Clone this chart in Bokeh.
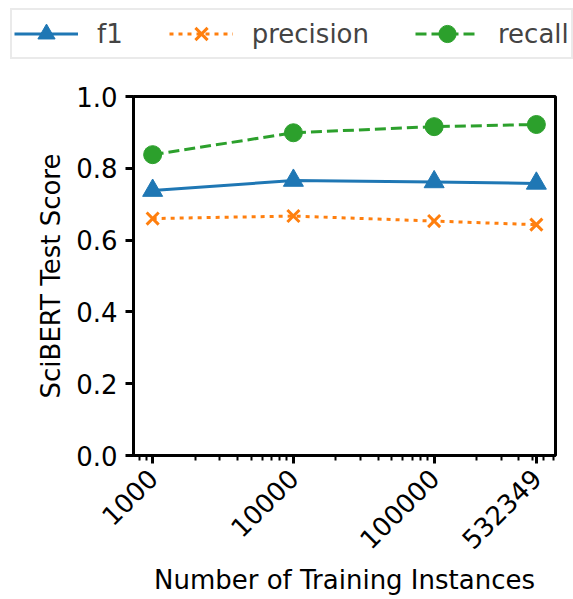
from bokeh.plotting import figure
from bokeh.layouts import column
from bokeh.models import (Range1d, FixedTicker, PrintfTickFormatter, Legend, LegendItem)
from bokeh.embed import file_html
from bokeh.resources import INLINE
import math

# Data
train_sizes = [1000, 10000, 100000, 532349]
tick_labels = ["1000", "10000", "100000", "532349"]
series_names = ["f1", "precision", "recall"]
f1 = [0.738, 0.766, 0.762, 0.758]
precision = [0.660, 0.667, 0.653, 0.643]
recall = [0.838, 0.899, 0.916, 0.922]
y_ticks = [0.0, 0.2, 0.4, 0.6, 0.8, 1.0]
minor = [800, 900] + [k * 1000 for k in range(2, 10)] + [k * 10000 for k in range(2, 10)] + [k * 100000 for k in range(2, 8)]

FONT = "DejaVu Sans"
FS = "26px"
blue, orange, green = "#1f77b4", "#ff7f0e", "#2ca02c"
styles = [
    dict(color=blue, dash="solid", marker="triangle", size=20),
    dict(color=orange, dash="4 5", marker="x", size=17),
    dict(color=green, dash="11 5", marker="circle", size=18),
]


def draw(fig, xs, ys, st):
    ln = fig.line(xs, ys, line_color=st["color"], line_width=3, line_dash=st["dash"])
    if st["marker"] == "x":
        sc = fig.scatter(xs, ys, marker="x", size=st["size"], line_color=st["color"], line_width=3)
    else:
        sc = fig.scatter(xs, ys, marker=st["marker"], size=st["size"],
                         fill_color=st["color"], line_color=st["color"])
    return ln, sc


# ---- main plot ----
p = figure(width=573, height=537, x_axis_type="log",
           x_range=Range1d(731, 728000), y_range=Range1d(0, 1.0),
           output_backend="svg", toolbar_location=None,
           min_border_left=133, min_border_right=18, min_border_top=34, min_border_bottom=144)
p.grid.visible = False
p.outline_line_color = "black"
p.outline_line_width = 3
p.background_fill_color = "white"
p.border_fill_color = "white"

for ys, st in zip([f1, precision, recall], styles):
    draw(p, train_sizes, ys, st)

for ax in (p.xaxis[0], p.yaxis[0]):
    ax.axis_line_width = 3
    ax.major_tick_line_width = 3
    ax.minor_tick_line_width = 2
    ax.major_tick_in = 0
    ax.major_tick_out = 8
    ax.minor_tick_in = 0
    ax.minor_tick_out = 5
    ax.major_label_text_font = FONT
    ax.major_label_text_font_size = FS
    ax.major_label_text_color = "black"
    ax.axis_label_text_font = FONT
    ax.axis_label_text_font_size = FS
    ax.axis_label_text_font_style = "normal"
    ax.axis_label_text_color = "black"

p.xaxis.ticker = FixedTicker(ticks=train_sizes, minor_ticks=minor)
p.xaxis.major_label_overrides = {t: lab for t, lab in zip(train_sizes, tick_labels)}
p.xaxis.major_label_orientation = math.pi / 4
p.xaxis.axis_label = "Number of Training Instances"
p.xaxis.axis_label_standoff = 4
p.xaxis.major_label_standoff = 10

p.yaxis.ticker = FixedTicker(ticks=y_ticks, minor_ticks=[])
p.yaxis.formatter = PrintfTickFormatter(format="%.1f")
p.yaxis.axis_label = "SciBERT Test Score"
p.yaxis.axis_label_standoff = 7
p.yaxis.major_label_standoff = 8

# ---- legend strip ----
lg = figure(width=573, height=62, x_range=Range1d(0, 1), y_range=Range1d(5, 6),
            output_backend="svg", toolbar_location=None,
            min_border=0, x_axis_location=None, y_axis_location=None)
lg.frame_align = False
lg.grid.visible = False
lg.outline_line_color = None
lg.border_fill_color = "white"
lg.background_fill_color = "white"

items = []
for name, ys, st in zip(series_names, [f1, precision, recall], styles):
    ln, sc = draw(lg, [0.5] * len(ys), ys, st)
    items.append(LegendItem(label=name, renderers=[ln, sc]))

legend = Legend(items=items, location=(10, 3), orientation="horizontal")
legend.label_text_font = FONT
legend.label_text_font_size = FS
legend.glyph_width = 64
legend.glyph_height = 43
legend.label_height = 43
legend.label_standoff = 19
legend.spacing = 46
legend.padding = 2
legend.margin = 0
legend.border_line_color = "#d6d6d6"
legend.border_line_width = 2
legend.background_fill_color = "white"
legend.background_fill_alpha = 1.0
lg.add_layout(legend, "center")

layout = column(lg, p, spacing=0)
open("out.html", "w").write(file_html(layout, INLINE))
